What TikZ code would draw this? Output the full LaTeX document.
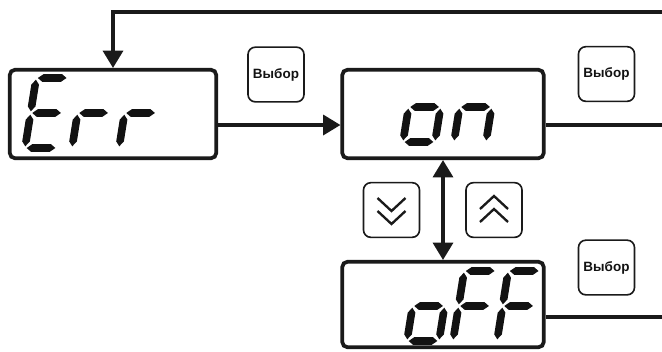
\documentclass[tikz,border=0pt]{standalone}
\usepackage{fontspec}
\newfontfamily\keyfont{Liberation Sans}
\usetikzlibrary{arrows.meta,calc,positioning}
\definecolor{LCDink}{HTML}{121212}
\definecolor{LCDline}{HTML}{1A1A1A}
\newcommand{\segpiece}[2]{%
  \fill[LCDink] ($(#1)!0.5mm!(#2)$)
    -- ($($(#1)!2.0mm!(#2)$)!1.15mm!90:(#2)$)
    -- ($($(#2)!2.0mm!(#1)$)!1.15mm!-90:(#1)$)
    -- ($(#2)!0.5mm!(#1)$)
    -- ($($(#2)!2.0mm!(#1)$)!1.15mm!90:(#1)$)
    -- ($($(#1)!2.0mm!(#2)$)!1.15mm!-90:(#2)$) -- cycle;}
\newcommand{\lcdsega}{\segpiece{0,-70}{32,-70}}
\newcommand{\lcdsegb}{\segpiece{32,-70}{32,-35}}
\newcommand{\lcdsegc}{\segpiece{32,-35}{32,0}}
\newcommand{\lcdsegd}{\segpiece{0,0}{32,0}}
\newcommand{\lcdsege}{\segpiece{0,-35}{0,0}}
\newcommand{\lcdsegf}{\segpiece{0,-70}{0,-35}}
\newcommand{\lcdsegg}{\segpiece{0,-35}{32,-35}}
\newcommand{\lcddigit}[3]{%
  \begin{scope}[shift={(#1,#2)},xslant=0.16]
    \foreach \s in {#3} {\csname lcdseg\s\endcsname}
  \end{scope}}
\newcommand{\chevdown}[2]{%
  \begin{scope}[shift={(#1,#2)},draw=LCDline,line width=2pt]
    \draw (-14,-13) -- (0,0) -- (14,-13);
    \draw (-14,0) -- (0,13) -- (14,0);
  \end{scope}}
\newcommand{\chevup}[2]{%
  \begin{scope}[shift={(#1,#2)},draw=LCDline,line width=2pt]
    \draw (-14,0) -- (0,-13) -- (14,0);
    \draw (-14,13) -- (0,0) -- (14,13);
  \end{scope}}
\begin{document}
\begin{tikzpicture}[
  x=0.3mm,y=-0.3mm,
  font=\keyfont\bfseries\fontsize{11.5}{13}\selectfont,
  >={Triangle[length=5.2mm,width=6mm]},
  flow/.style={draw=LCDline,line width=2.9pt,->},
  wire/.style={draw=LCDline,line width=2.9pt},
  display/.style={draw=LCDline,line width=3.2pt,rounded corners=1.5mm,
    minimum width=60.4mm,minimum height=26.5mm,inner sep=0pt},
  keycap/.style={draw=LCDline,line width=1.4pt,rounded corners=2.2mm,
    minimum width=16.8mm,minimum height=16.4mm,inner sep=0pt,text=LCDink}
]
\fill[white] (0,0) rectangle (662,351);
\useasboundingbox (0,0) rectangle (662,351);

% Display windows
\node[display,minimum width=61.9mm] (err) at (113,114) {};
\node[display] (on) at (443,114) {};
\node[display,minimum height=25.6mm] (off) at (443,304.5) {};

\lcddigit{25}{148}{a,d,e,f,g}
\lcddigit{72}{148}{e,g}
\lcddigit{119}{148}{e,g}

\lcddigit{403}{142}{c,d,e,g}
\lcddigit{454}{142}{c,e,g}

\lcddigit{407}{341}{c,d,e,g}
\lcddigit{453}{341}{a,e,f,g}
\lcddigit{497}{341}{a,e,f,g}

% Keys
\node[keycap] (selone) at (276,74.5) {Выбор};
\node[keycap] (seltwo) at (606.5,74) {Выбор};
\node[keycap] (selthree) at (606.5,267.5) {Выбор};
\node[keycap] (down) at (391.5,210) {};
\node[keycap] (up) at (494,210) {};
\chevdown{391.5}{211}
\chevup{494}{209}

% Connectors; free ends leave the right edge
\coordinate (loopin) at (662,12);
\coordinate (onout) at (662,125);
\coordinate (offout) at (662,317);
\draw[flow] (loopin) -| (err.north);
\draw[flow] ($(err.east)+(0,11)$) -- ($(on.west)+(0,11)$);
\draw[wire] ($(on.east)+(0,11)$) -- (onout);
\draw[wire] (off.east |- offout) -- (offout);
\draw[wire,<->] (on.south) -- (off.north);

\end{tikzpicture}
\end{document}
